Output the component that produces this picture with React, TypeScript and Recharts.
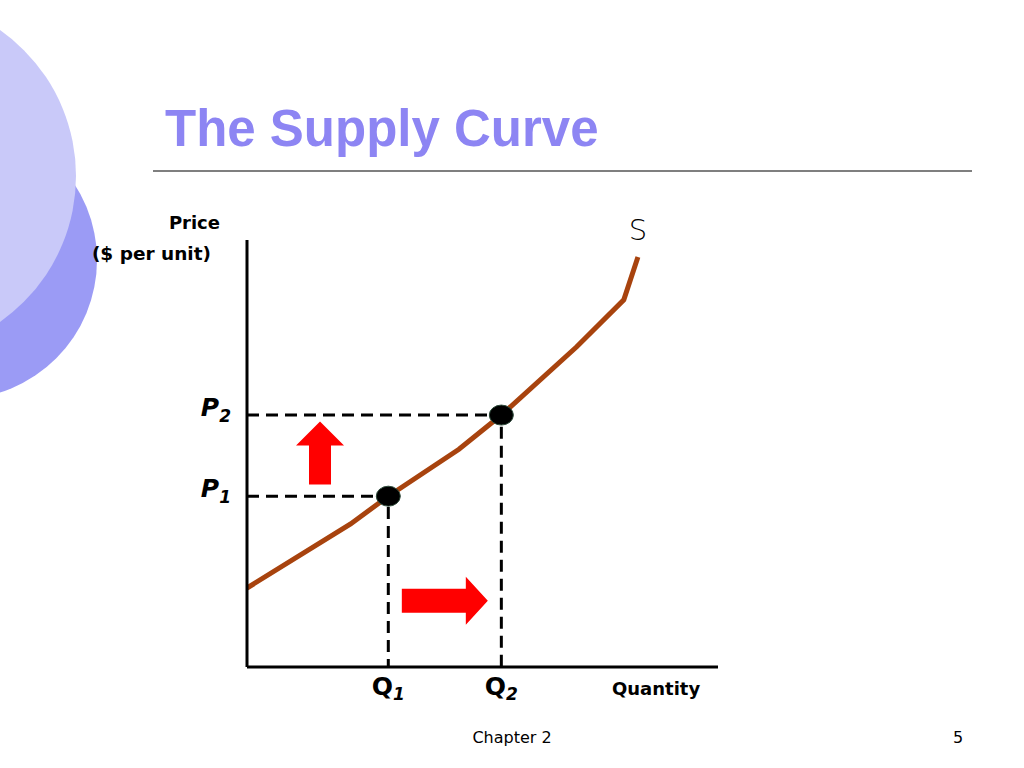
import { ComposedChart, Line, Scatter, XAxis, YAxis, ReferenceDot } from 'recharts'

// supply curve (quantity 0..100, price 0..100)
const supplyQ = [0, 22, 30, 45, 54, 70, 80, 83]
const supplyP = [18.5, 33.5, 40, 51, 59, 75, 86, 96]

// the two equilibrium points
const qLevels = [30, 54]
const pLevels = [40, 59]
const qLabels = ['1', '2']
const pLabels = ['1', '2']

// where the red arrows sit (centre)
const upArrowAt = [{ x: 15.5, y: 50 }]
const rightArrowAt = [{ x: 42, y: 15.5 }]

const supplyData = supplyQ.map((q, i) => ({ x: q, y: supplyP[i] }))
const dotData = qLevels.map((q, i) => ({ x: q, y: pLevels[i] }))
const guides = qLevels.map((q, i) => [
  { x: 0, y: pLevels[i] },
  { x: q, y: pLevels[i] },
  { x: q, y: 0 },
])

const FONT = '"DejaVu Sans", sans-serif'

const QTick = (props: any) => {
  const { x, y, payload } = props
  const i = qLevels.indexOf(payload.value)
  return (
    <text x={x} y={y} dy={20} textAnchor="middle" fontFamily={FONT} fontWeight="bold" fontSize={25} fill="#000">
      <tspan>Q</tspan>
      <tspan fontSize={17} fontStyle="italic" dy={5}>{qLabels[i]}</tspan>
    </text>
  )
}

const PTick = (props: any) => {
  const { x, y, payload } = props
  const i = pLevels.indexOf(payload.value)
  return (
    <text x={x - 8} y={y} dy={1} textAnchor="end" fontFamily={FONT} fontWeight="bold" fontStyle="italic" fontSize={25} fill="#000">
      <tspan>P</tspan>
      <tspan fontSize={17} dy={6}>{pLabels[i]}</tspan>
    </text>
  )
}

const Dot = (props: any) => (
  <ellipse cx={props.cx} cy={props.cy} rx={12} ry={10} fill="#000" stroke="#2d4a3a" strokeWidth={1} />
)

const UpArrow = (props: any) => {
  const { cx, cy } = props
  const pts = [
    [cx, cy - 32], [cx + 24, cy - 8], [cx + 11, cy - 8], [cx + 11, cy + 31],
    [cx - 11, cy + 31], [cx - 11, cy - 8], [cx - 24, cy - 8],
  ]
  return <polygon points={pts.map(p => p.join(',')).join(' ')} fill="#ff0000" />
}

const RightArrow = (props: any) => {
  const { cx, cy } = props
  const pts = [
    [cx + 43, cy], [cx + 21, cy - 24], [cx + 21, cy - 12], [cx - 43, cy - 12],
    [cx - 43, cy + 12], [cx + 21, cy + 12], [cx + 21, cy + 24],
  ]
  return <polygon points={pts.map(p => p.join(',')).join(' ')} fill="#ff0000" />
}

export default function App() {
  return (
    <div style={{ position: 'absolute', left: 0, top: 0, width: 1024, height: 768, background: '#fff', overflow: 'hidden' }}>
      <svg width={1024} height={768} style={{ position: 'absolute', left: 0, top: 0 }}>
        <circle cx={-42} cy={260} r={139} fill="#9b9bf5" />
        <circle cx={-102} cy={176} r={178} fill="#c9c9f9" />
        <text x={165} y={146} fontFamily='"Liberation Sans", Arial, sans-serif' fontWeight="bold" fontSize={51} fill="#8d85f3">
          The Supply Curve
        </text>
        <line x1={153} y1={171} x2={972} y2={171} stroke="#000" strokeWidth={1.2} />
        <text x={220} y={229} textAnchor="end" fontFamily={FONT} fontWeight="bold" fontSize={18} fill="#000">Price</text>
        <text x={211} y={260} textAnchor="end" fontFamily={FONT} fontWeight="bold" fontSize={18.5} fill="#000">($ per unit)</text>
        <text x={612} y={695} fontFamily={FONT} fontWeight="bold" fontSize={18} fill="#000">Quantity</text>
        <text x={512} y={743} textAnchor="middle" fontFamily={FONT} fontSize={16} fill="#000">Chapter 2</text>
        <text x={958} y={743} textAnchor="middle" fontFamily={FONT} fontSize={16} fill="#000">5</text>
      </svg>
      <div style={{ position: 'absolute', left: 0, top: 0 }}>
        <ComposedChart width={1024} height={768} margin={{ top: 240, right: 306, bottom: 71, left: 207 }}>
          <XAxis
            type="number"
            dataKey="x"
            domain={[0, 100]}
            ticks={qLevels}
            interval={0}
            height={30}
            tickLine={false}
            axisLine={{ stroke: '#000', strokeWidth: 3 }}
            tick={<QTick />}
            allowDataOverflow
          />
          <YAxis
            type="number"
            dataKey="y"
            domain={[0, 100]}
            ticks={pLevels}
            interval={0}
            width={40}
            tickLine={false}
            axisLine={{ stroke: '#000', strokeWidth: 3 }}
            tick={<PTick />}
            allowDataOverflow
          />
          {guides.map((g, i) => (
            <Line
              key={`guide-${i}`}
              data={g}
              dataKey="y"
              type="linear"
              stroke="#000"
              strokeWidth={3}
              strokeDasharray="12 7"
              dot={false}
              activeDot={false}
              isAnimationActive={false}
            />
          ))}
          <Line
            data={supplyData}
            dataKey="y"
            type="linear"
            stroke="#a8430e"
            strokeWidth={5}
            dot={false}
            activeDot={false}
            isAnimationActive={false}
          />
          <Scatter data={dotData} dataKey="y" shape={<Dot />} isAnimationActive={false} />
          <Scatter data={upArrowAt} dataKey="y" shape={<UpArrow />} isAnimationActive={false} />
          <Scatter data={rightArrowAt} dataKey="y" shape={<RightArrow />} isAnimationActive={false} />
          <ReferenceDot
            x={supplyQ[supplyQ.length - 1]}
            y={supplyP[supplyP.length - 1]}
            r={0}
            stroke="none"
            label={{ value: 'S', position: 'top', offset: 17, fontFamily: FONT, fontWeight: 200, fontSize: 29, fill: '#000' }}
          />
        </ComposedChart>
      </div>
    </div>
  )
}
